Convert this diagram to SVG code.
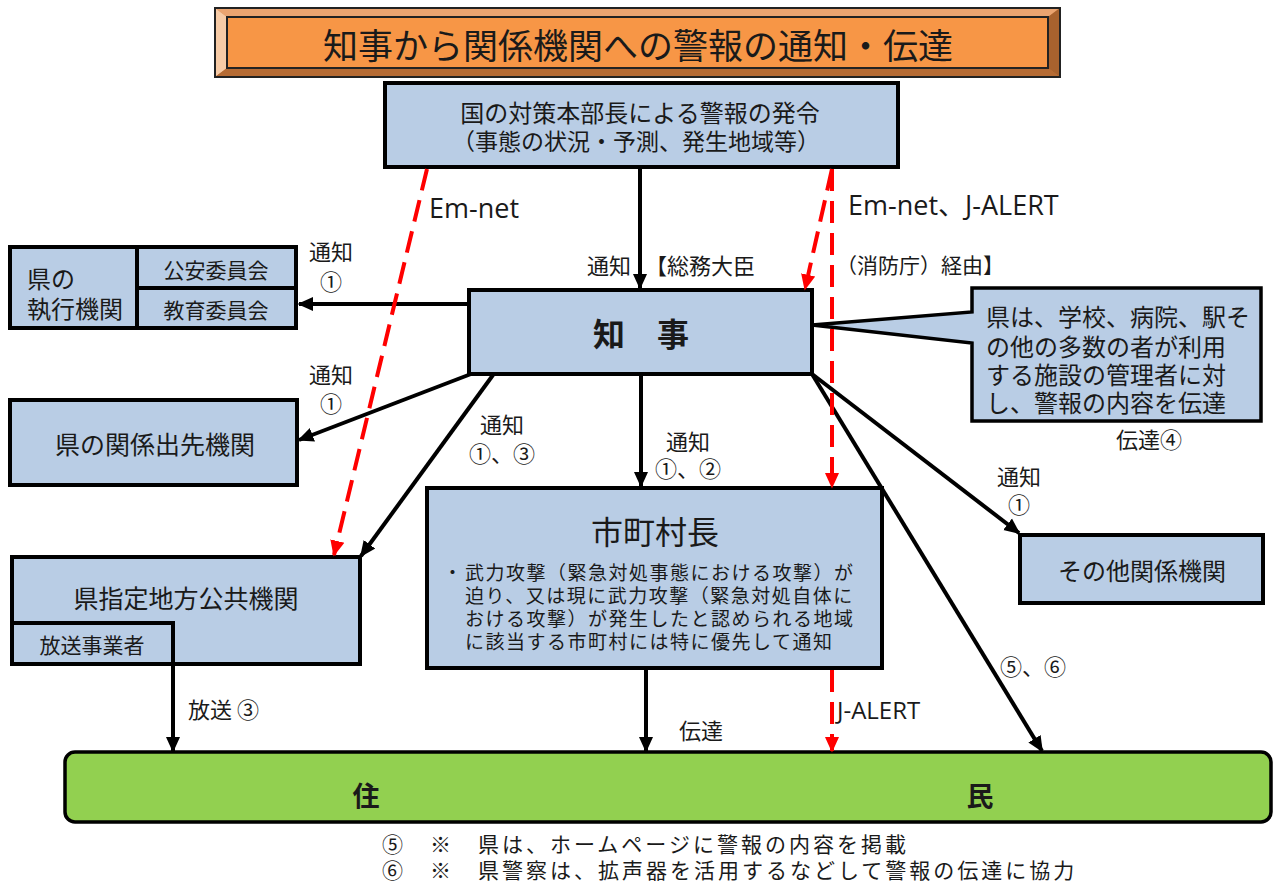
<svg xmlns="http://www.w3.org/2000/svg" width="1274" height="886" viewBox="0 0 1274 886">
<style>
text{font-family:"Noto Sans CJK JP","Noto Sans",sans-serif;fill:#1a1a1a;dominant-baseline:central}
.lat{font-family:"Open Sans","Noto Sans CJK JP",sans-serif}
.box{fill:#B9CDE5;stroke:#000;stroke-width:4}
.ln{stroke:#000;stroke-width:4;fill:none}
.red{stroke:#FF0000;stroke-width:4;fill:none;stroke-dasharray:22 10}
.m{text-anchor:middle}
.bul{font-size:19px;letter-spacing:1.5px}
.note{font-size:21px;letter-spacing:3px}
</style>
<defs>
<marker id="ah" viewBox="0 0 10 10" refX="9" refY="5" markerWidth="16" markerHeight="16" markerUnits="userSpaceOnUse" orient="auto"><path d="M0,0.5 L10,5 L0,9.5 z" fill="#000"/></marker>
<marker id="ahr" viewBox="0 0 10 10" refX="9" refY="5" markerWidth="16" markerHeight="16" markerUnits="userSpaceOnUse" orient="auto"><path d="M0,0.5 L10,5 L0,9.5 z" fill="#FF0000"/></marker>
</defs>
<rect width="1274" height="886" fill="#fff"/>

<g id="title">
<rect x="215" y="8" width="845" height="69" fill="#C47A45" stroke="#222" stroke-width="2"/>
<polygon points="215,8 1060,8 1048,17 227,17" fill="#EBA470"/>
<polygon points="215,8 227,17 227,68 215,77" fill="#F7CBA6"/>
<polygon points="1060,8 1060,77 1048,68 1048,17" fill="#A8622E"/>
<polygon points="215,77 1060,77 1048,68 227,68" fill="#B56B34"/>
<rect x="215" y="8" width="845" height="69" fill="none" stroke="#222" stroke-width="2"/>
<rect x="227" y="17" width="821" height="51" fill="#F79646" stroke="#222" stroke-width="2"/>
<text x="638" y="43" class="m" font-size="35">知事から関係機関への警報の通知・伝達</text>
</g>

<g id="hq">
<rect x="385" y="83" width="513" height="84" class="box"/>
<text x="640" y="111" class="m" font-size="24">国の対策本部長による警報の発令</text>
<text x="636" y="140" class="m" font-size="23">（事態の状況・予測、発生地域等）</text>
</g>

<g id="governor">
<rect x="469" y="290" width="343" height="84" class="box"/>
<text x="641" y="332" class="m" font-size="32" font-weight="bold">知　事</text>
</g>

<g id="executive">
<rect x="10" y="247" width="286" height="81" class="box"/>
<line x1="137" y1="247" x2="137" y2="328" class="ln"/>
<line x1="137" y1="288" x2="296" y2="288" class="ln"/>
<text x="27" y="277" font-size="24">県の</text>
<text x="27" y="307" font-size="24">執行機関</text>
<text x="216" y="269" class="m" font-size="21">公安委員会</text>
<text x="216" y="309" class="m" font-size="21">教育委員会</text>
</g>

<g id="branch">
<rect x="10" y="400" width="287" height="85" class="box"/>
<text x="155" y="443" class="m" font-size="25">県の関係出先機関</text>
</g>

<g id="designated">
<rect x="12" y="557" width="348" height="107" class="box"/>
<text x="186" y="597" class="m" font-size="25">県指定地方公共機関</text>
<rect x="12" y="623" width="161" height="41" class="box"/>
<text x="92" y="644" class="m" font-size="21">放送事業者</text>
</g>

<g id="mayor">
<rect x="427" y="488" width="455" height="180" class="box"/>
<text x="655" y="530" class="m" font-size="32">市町村長</text>
<text x="443" y="571" class="bul">・</text>
<text x="465" y="571" class="bul">武力攻撃（緊急対処事態における攻撃）が</text>
<text x="465" y="594" class="bul">迫り、又は現に武力攻撃（緊急対処自体に</text>
<text x="465" y="617" class="bul">おける攻撃）が発生したと認められる地域</text>
<text x="465" y="640" class="bul">に該当する市町村には特に優先して通知</text>
</g>

<g id="facilities">
<path d="M972,288 H1261 V421 H972 V343 L812,325 L972,312 Z" fill="#B9CDE5" stroke="#000" stroke-width="3.5" stroke-linejoin="miter"/>
<text x="986" y="315" font-size="24">県は、学校、病院、駅そ</text>
<text x="986" y="345" font-size="24">の他の多数の者が利用</text>
<text x="986" y="373" font-size="24">する施設の管理者に対</text>
<text x="986" y="401" font-size="24">し、警報の内容を伝達</text>
</g>

<g id="others">
<rect x="1020" y="535" width="243" height="68" class="box"/>
<text x="1142" y="569" class="m" font-size="24">その他関係機関</text>
</g>

<g id="residents">
<rect x="65" y="752" width="1206" height="70" rx="10" fill="#92D050" stroke="#000" stroke-width="3.5"/>
<text x="366" y="794" class="m" font-size="27" font-weight="bold">住</text>
<text x="980" y="794" class="m" font-size="27" font-weight="bold">民</text>
</g>

<g id="connectors">
<line x1="640" y1="169" x2="640" y2="288" class="ln" marker-end="url(#ah)"/>
<line x1="469" y1="304" x2="299" y2="304" class="ln" marker-end="url(#ah)"/>
<line x1="471" y1="374" x2="299" y2="440" class="ln" marker-end="url(#ah)"/>
<line x1="493" y1="375" x2="361" y2="556" class="ln" marker-end="url(#ah)"/>
<line x1="641" y1="376" x2="641" y2="486" class="ln" marker-end="url(#ah)"/>
<line x1="812" y1="374" x2="1019" y2="533" class="ln" marker-end="url(#ah)"/>
<line x1="812" y1="374" x2="1042" y2="751" class="ln" marker-end="url(#ah)"/>
<line x1="173" y1="664" x2="173" y2="751" class="ln" marker-end="url(#ah)"/>
<line x1="646" y1="670" x2="646" y2="751" class="ln" marker-end="url(#ah)"/>
<line x1="427" y1="169" x2="334" y2="555" class="red" marker-end="url(#ahr)"/>
<line x1="832" y1="169" x2="805" y2="289" class="red" marker-end="url(#ahr)"/>
<line x1="832" y1="169" x2="832" y2="487" class="red" marker-end="url(#ahr)"/>
<line x1="832" y1="670" x2="832" y2="751" class="red" marker-end="url(#ahr)"/>
</g>

<g id="labels">
<text x="429" y="207" class="lat" font-size="27">Em-net</text>
<text x="848" y="204" class="lat" font-size="27">Em-net、J-ALERT</text>
<text x="587" y="264" font-size="22">通知</text>
<text x="645" y="264" font-size="22">【総務大臣</text>
<text x="836" y="264" font-size="21">（消防庁）経由】</text>
<text x="331" y="250" class="m" font-size="22">通知</text>
<text x="331" y="280" class="m" font-size="22">①</text>
<text x="331" y="373" class="m" font-size="22">通知</text>
<text x="331" y="402" class="m" font-size="22">①</text>
<text x="502" y="423" class="m" font-size="22">通知</text>
<text x="502" y="452" class="m" font-size="22">①、③</text>
<text x="688" y="440" class="m" font-size="22">通知</text>
<text x="688" y="467" class="m" font-size="22">①、②</text>
<text x="1116" y="438" font-size="22">伝達④</text>
<text x="1019" y="475" class="m" font-size="22">通知</text>
<text x="1019" y="503" class="m" font-size="22">①</text>
<text x="1000" y="665" font-size="22">⑤、⑥</text>
<text x="188" y="708" font-size="22">放送 ③</text>
<text x="679" y="729" font-size="22">伝達</text>
<text x="837" y="709" class="lat" font-size="24">J-ALERT</text>
</g>

<g id="notes">
<text x="382" y="843" class="note">⑤　※　県は、ホームページに警報の内容を掲載</text>
<text x="382" y="869" class="note">⑥　※　県警察は、拡声器を活用するなどして警報の伝達に協力</text>
</g>
</svg>
